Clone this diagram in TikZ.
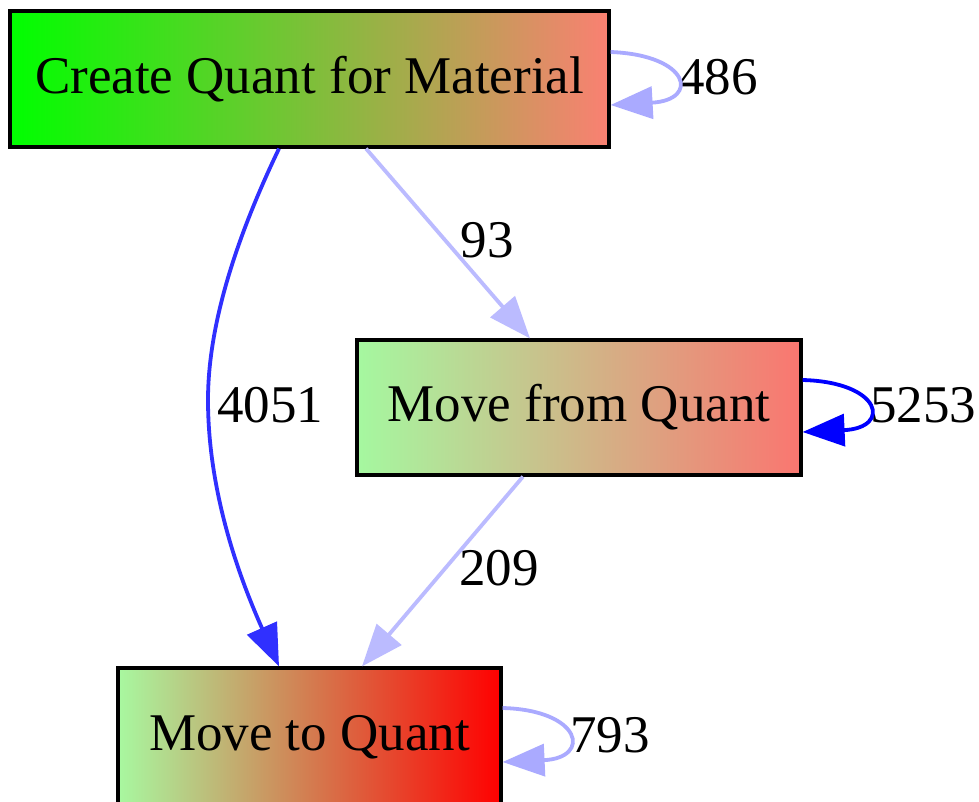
\documentclass[tikz,border=0pt]{standalone}
\usepackage{fontspec}
\setmainfont{Liberation Serif}
\usetikzlibrary{arrows.meta,calc}
\definecolor{cAl}{RGB}{0,255,0}
\definecolor{cAr}{RGB}{250,128,114}
\definecolor{cBl}{RGB}{165,248,160}
\definecolor{cBr}{RGB}{250,118,112}
\definecolor{cCl}{RGB}{168,248,160}
\definecolor{cCr}{RGB}{255,0,0}
\definecolor{eDark}{RGB}{48,48,255}
\definecolor{eBlue}{RGB}{0,0,255}
\definecolor{eLight}{RGB}{187,187,255}
\definecolor{eLoop}{RGB}{170,170,255}
\begin{document}
\begin{tikzpicture}[x=1pt,y=-1pt,
  box/.style={draw=black, line width=3.2pt, rectangle, inner sep=0pt,
    font=\fontsize{53}{60}\selectfont},
  elabel/.style={inner sep=0pt, font=\fontsize{53}{60}\selectfont},
  conn/.style={line width=3.8pt, -{Triangle[length=42pt,width=32pt]}}]
\useasboundingbox (0,0) rectangle (979,801);
\clip (0,0) rectangle (979,801);
\fill[white] (0,0) rectangle (979,801);
\node[box, left color=cAl, right color=cAr, minimum width=599pt, minimum height=136pt] (n1) at (309.5,79) {Create Quant for Material};
\node[box, left color=cBl, right color=cBr, minimum width=444pt, minimum height=135pt] (n2) at (579,407.5) {Move from Quant};
\node[box, left color=cCl, right color=cCr, minimum width=383pt, minimum height=138pt] (n3) at (309.5,737) {Move to Quant};
\node[elabel] (l4051) at (270,405) {4051};
\node[elabel] (l93) at (487,240) {93};
\node[elabel] (l209) at (499,568) {209};
\node[elabel] (l486) at (718,77) {486};
\node[elabel] (l5253) at (923,405) {5253};
\node[elabel] (l793) at (610,735) {793};
\draw[conn, eDark] ($(n1.south)+(-30.5,0)$) .. controls (240,230) and (208,320) .. (208,400) .. controls (208,500) and (245,590) .. ($(n3.north)+(-30.5,0)$);
\draw[conn, eLight] ($(n1.south)+(56.5,0)$) -- ($(n2.north)+(-49,0)$);
\draw[conn, eLight] ($(n2.south)+(-56,0)$) -- ($(n3.north)+(52.5,0)$);
\draw[conn, eLoop] ($(n1.east)+(0,-27)$) .. controls (690,55) and (700,100) .. ($(n1.east)+(0,26)$);
\draw[conn, eBlue] ($(n2.east)+(0,-27.5)$) .. controls (882,382) and (892,428) .. ($(n2.east)+(0,24.5)$);
\draw[conn, eLoop] ($(n3.east)+(0,-29)$) .. controls (582,710) and (592,758) .. ($(n3.east)+(0,25)$);
\end{tikzpicture}
\end{document}
